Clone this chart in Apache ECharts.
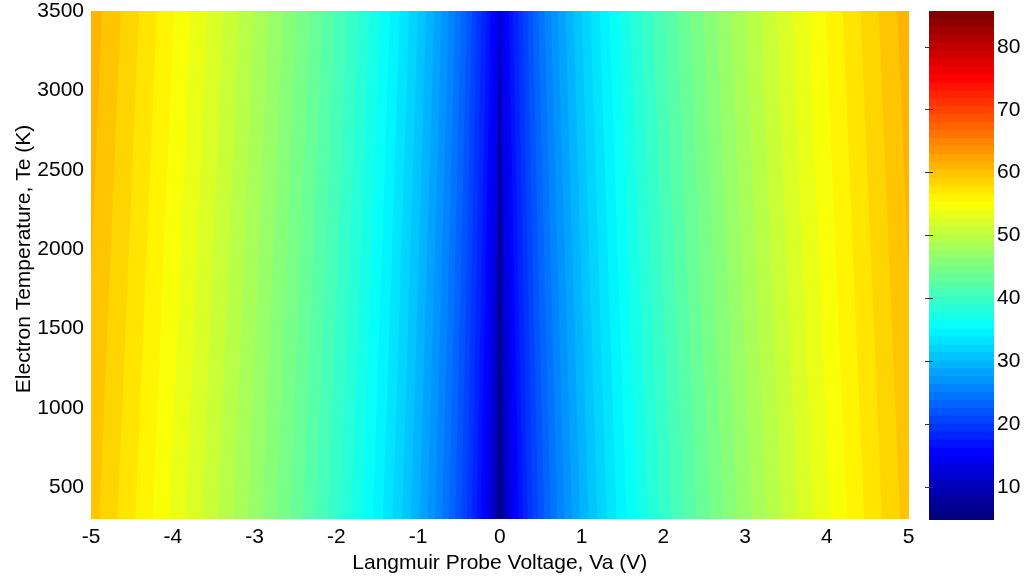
<!DOCTYPE html>
<html>
<head>
<meta charset="utf-8">
<title>Langmuir probe contour</title>
<script src="https://cdn.jsdelivr.net/npm/echarts@6/dist/echarts.min.js"></script>
<style>
  html, body { margin: 0; padding: 0; background: #fff; }
  #chart { width: 1026px; height: 576px; }
</style>
</head>
<body>
<div id="chart"></div>
<script>
// filled contour bands, innermost (lowest) first.
// band i covers |Va| < edge, so it is a quad from -edge to +edge;
// outer bands get painted first and the inner ones sit on top
var bandValue = [
  5.53, 6.79, 8.06, 9.32, 10.58, 11.84, 13.11, 14.37, 15.63, 16.89,
  18.16, 19.42, 20.68, 21.94, 23.21, 24.47, 25.73, 26.99, 28.26, 29.52,
  30.78, 32.04, 33.31, 34.57, 35.83, 37.09, 38.36, 39.62, 40.88, 42.14,
  43.41, 44.67, 45.93, 47.19, 48.46, 49.72, 50.98, 52.24, 53.51, 54.77,
  56.03, 57.29, 58.56, 59.82, 61.08
];
// |Va| (V) of each band's outer edge at Te = 300 K
var edgeAtTeLow = [
  0.008, 0.020, 0.036, 0.056, 0.080, 0.110, 0.145, 0.186, 0.233, 0.284,
  0.341, 0.403, 0.471, 0.543, 0.621, 0.703, 0.791, 0.885, 0.983, 1.086,
  1.195, 1.309, 1.428, 1.553, 1.682, 1.817, 1.956, 2.101, 2.252, 2.407,
  2.567, 2.733, 2.904, 3.080, 3.261, 3.448, 3.640, 3.837, 4.039, 4.246,
  4.458, 4.676, 4.898, 5.126, 5.359
];
// |Va| (V) of each band's outer edge at Te = 3500 K (0 = band closes before the top)
var edgeAtTeHigh = [
  0.000, 0.000, 0.000, 0.000, 0.000, 0.000, 0.020, 0.060, 0.110, 0.160,
  0.222, 0.280, 0.338, 0.402, 0.471, 0.546, 0.626, 0.711, 0.802, 0.899,
  1.001, 1.109, 1.222, 1.340, 1.464, 1.594, 1.729, 1.869, 2.015, 2.167,
  2.324, 2.486, 2.654, 2.828, 3.006, 3.191, 3.381, 3.576, 3.777, 3.984,
  4.195, 4.413, 4.635, 4.864, 5.098
];

var teRange = [300, 3500];
var teTicks = [500, 1000, 1500, 2000, 2500, 3000, 3500];
var vaRange = [-5, 5];
var cbarRange = [4.9, 85.7];
var cbarTicks = [10, 20, 30, 40, 50, 60, 70, 80];
var jet = ['#000080', '#0000ff', '#0080ff', '#00ffff', '#80ff80', '#ffff00', '#ff8000', '#ff0000', '#800000'];

var font = '"Liberation Sans", Arial, sans-serif';
var fs = 21;

// outermost band first
var bandData = [];
for (var i = bandValue.length - 1; i >= 0; i--) {
  bandData.push([bandValue[i], edgeAtTeLow[i], edgeAtTeHigh[i]]);
}

function renderBand(params, api) {
  var lo = api.value(1);
  var hi = api.value(2);
  var pts = [
    api.coord([-lo, teRange[0]]),
    api.coord([-hi, teRange[1]]),
    api.coord([hi, teRange[1]]),
    api.coord([lo, teRange[0]])
  ];
  return {
    type: 'polygon',
    shape: { points: pts },
    style: { fill: api.visual('color') }
  };
}

function plain(v) {
  return String(v);
}

var chart = echarts.init(document.getElementById('chart'));
var option = {
  backgroundColor: '#fff',
  animation: false,
  textStyle: { fontFamily: font },
  grid: [
    { left: 91, top: 11, width: 817.5, height: 508, outerBoundsMode: 'none' },
    { left: 929, top: 11, width: 65, height: 508, outerBoundsMode: 'none' }
  ],
  xAxis: [
    {
      type: 'value',
      gridIndex: 0,
      min: vaRange[0],
      max: vaRange[1],
      interval: 1,
      name: 'Langmuir Probe Voltage, Va (V)',
      nameLocation: 'middle',
      nameGap: 31,
      nameTextStyle: { fontSize: fs, color: '#000', fontFamily: font },
      axisLine: { show: false },
      axisTick: { show: false },
      splitLine: { show: false },
      axisLabel: { fontSize: fs, color: '#000', margin: 8, fontFamily: font, formatter: plain }
    },
    {
      type: 'value',
      gridIndex: 1,
      min: 0,
      max: 1,
      show: false
    }
  ],
  yAxis: [
    {
      type: 'value',
      gridIndex: 0,
      min: teRange[0],
      max: teRange[1],
      name: 'Electron Temperature, Te (K)',
      nameLocation: 'middle',
      nameGap: 56,
      nameMoveOverlap: false,
      nameTextStyle: { fontSize: fs, color: '#000', fontFamily: font, padding: [0, 0, 0, 12] },
      axisLine: { show: false },
      axisTick: { show: false },
      splitLine: { show: false },
      axisLabel: { fontSize: fs, color: '#000', margin: 7, fontFamily: font, customValues: teTicks, formatter: plain }
    },
    {
      type: 'value',
      gridIndex: 1,
      position: 'right',
      min: cbarRange[0],
      max: cbarRange[1],
      axisLine: { show: false },
      splitLine: { show: false },
      axisTick: { show: true, inside: true, length: 4, lineStyle: { color: '#333' }, customValues: cbarTicks },
      axisLabel: { fontSize: fs, color: '#000', margin: 3, fontFamily: font, customValues: cbarTicks, formatter: plain },
      z: 10
    },
    {
      type: 'value',
      gridIndex: 1,
      position: 'left',
      min: cbarRange[0],
      max: cbarRange[1],
      axisLine: { show: false },
      splitLine: { show: false },
      axisLabel: { show: false },
      axisTick: { show: true, inside: true, length: 4, lineStyle: { color: '#333' }, customValues: cbarTicks },
      z: 10
    }
  ],
  visualMap: {
    type: 'piecewise',
    seriesIndex: 0,
    dimension: 0,
    min: cbarRange[0],
    max: cbarRange[1],
    splitNumber: 64,
    inRange: { color: jet },
    orient: 'vertical',
    left: 929,
    top: 11,
    padding: 0,
    itemWidth: 65,
    itemHeight: 9,
    itemGap: 508 / 64 - 9,   // overlap a little so no seams show
    itemSymbol: 'rect',
    showLabel: false,
    selectedMode: false,
    hoverLink: false,
    z: 1
  },
  series: [
    {
      type: 'custom',
      xAxisIndex: 0,
      yAxisIndex: 0,
      clip: true,
      renderItem: renderBand,
      data: bandData
    }
  ]
};
chart.setOption(option);
</script>
</body>
</html>
